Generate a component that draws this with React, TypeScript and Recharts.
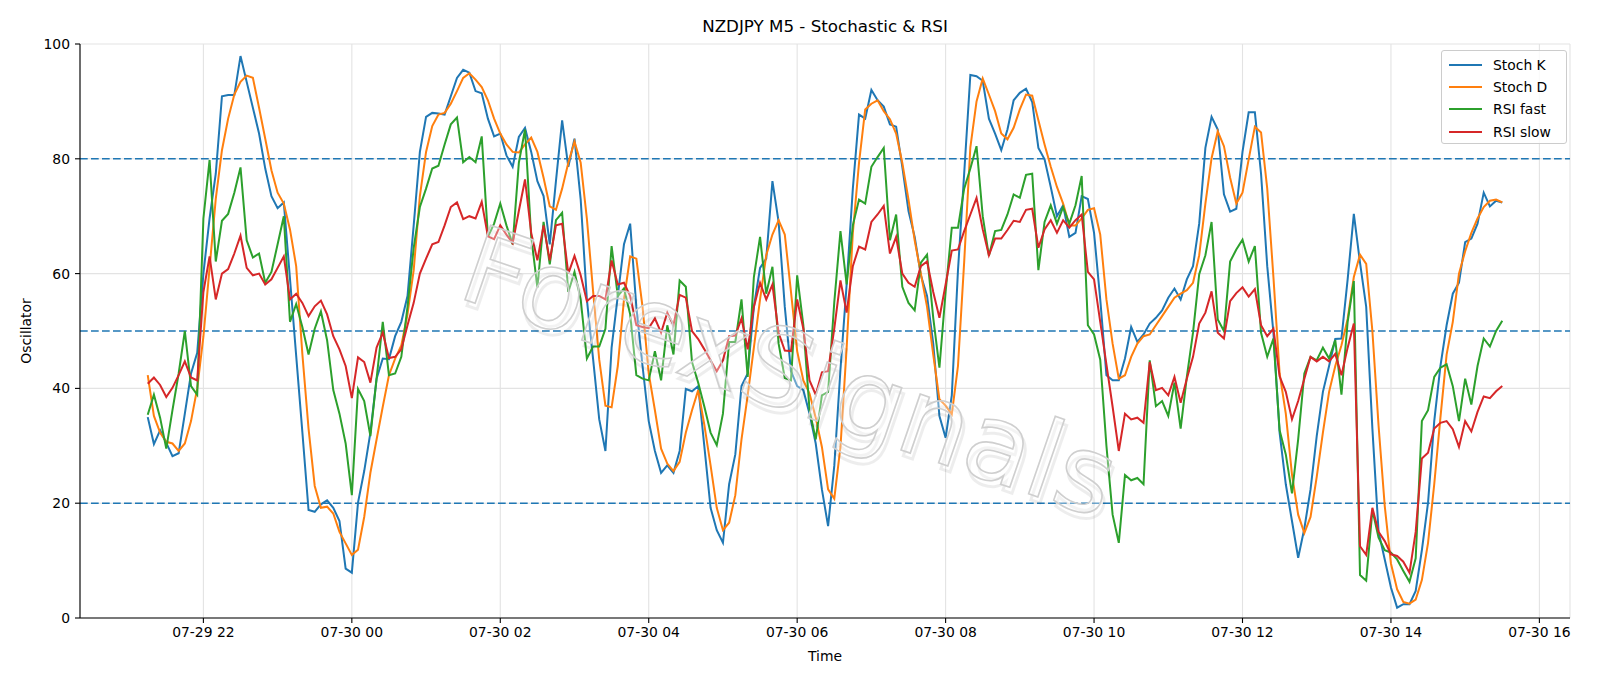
import React from "react";
import { LineChart, Line, XAxis, YAxis, CartesianGrid, ReferenceLine } from "recharts";

// M5 bars, first bar 07-29 21:15 (minutes from 07-29 00:00)
const START_MIN = 21 * 60 + 15;
const STEP_MIN = 5;

const stochK = [
  35.0, 30.3, 32.7, 30.5, 28.2, 28.7, 35.6, 42.6, 46.2, 60.0,
  69.6, 77.4, 90.9, 91.1, 91.1, 97.9, 93.4, 88.9, 84.4, 78.3,
  73.5, 71.4, 72.4, 59.1, 45.7, 32.4, 18.8, 18.5, 19.8, 20.5,
  19.2, 16.9, 8.6, 7.9, 20.1, 25.6, 32.3, 41.7, 45.2, 45.1,
  49.1, 51.6, 56.1, 68.4, 81.2, 87.3, 88.0, 87.9, 87.7, 90.9,
  94.1, 95.5, 95.0, 91.8, 91.4, 87.0, 83.9, 84.4, 80.6, 78.6,
  83.8, 85.4, 81.2, 76.1, 73.5, 65.1, 76.1, 86.7, 78.6, 83.5,
  72.9, 55.5, 45.2, 34.6, 29.1, 47.1, 56.1, 65.1, 68.7, 54.2,
  43.9, 34.3, 29.1, 25.3, 26.6, 25.3, 29.1, 39.9, 39.5, 40.4,
  29.8, 19.2, 15.3, 13.1, 23.3, 28.5, 40.4, 42.6, 54.2, 61.0,
  62.6, 76.1, 69.0, 54.2, 43.0, 40.4, 39.7, 35.6, 30.4, 22.4,
  16.0, 26.5, 43.3, 58.1, 74.8, 87.7, 87.0, 92.0, 90.2, 89.1,
  86.0, 85.6, 78.6, 70.9, 66.4, 59.7, 56.1, 47.8, 35.2, 31.4,
  38.8, 60.6, 77.4, 94.6, 94.4, 93.6, 87.0, 84.4, 81.5, 85.1,
  90.2, 91.5, 92.2, 89.9, 81.9, 79.9, 75.1, 70.0, 71.9, 66.4,
  67.1, 73.5, 73.0, 67.1, 55.5, 42.3, 41.4, 41.4, 45.2, 50.7,
  48.1, 49.4, 51.3, 52.3, 53.6, 55.8, 57.4, 55.5, 59.0, 61.3,
  68.7, 81.9, 87.3, 85.1, 73.8, 70.8, 71.3, 81.2, 88.1, 88.1,
  77.4, 61.3, 49.7, 32.3, 23.3, 16.9, 10.5, 15.6, 22.4, 31.7,
  39.4, 43.9, 48.6, 48.7, 59.0, 70.4, 61.9, 54.2, 33.0, 15.0,
  10.2, 5.3, 1.8, 2.4, 2.4, 4.7, 11.8, 20.1, 34.3, 43.9,
  51.0, 56.5, 58.4, 65.5, 66.1, 68.7, 74.1, 71.7, 72.7, 72.4,
];

const stochD = [
  42.3, 35.2, 32.3, 30.7, 30.4, 29.1, 30.4, 34.3, 40.0, 49.0,
  61.0, 73.0, 81.5, 87.0, 91.2, 93.4, 94.5, 94.1, 88.9, 83.5,
  78.0, 74.1, 72.2, 67.7, 61.3, 46.0, 33.0, 23.0, 19.2, 19.4,
  18.2, 15.0, 13.0, 11.0, 11.9, 17.6, 25.3, 31.1, 36.8, 42.3,
  45.2, 47.5, 52.9, 60.6, 73.5, 81.2, 85.7, 87.7, 88.0, 89.6,
  91.8, 94.1, 94.9, 93.8, 92.5, 90.2, 87.0, 84.4, 82.5, 81.2,
  81.1, 82.5, 83.7, 81.2, 76.7, 71.7, 71.1, 74.8, 79.3, 83.0,
  79.3, 69.6, 57.0, 45.0, 37.0, 36.7, 43.9, 55.5, 63.0, 62.6,
  54.2, 42.6, 36.2, 29.5, 26.9, 25.6, 27.2, 32.3, 36.2, 39.7,
  33.6, 26.6, 19.2, 15.3, 16.6, 21.4, 31.1, 38.8, 47.1, 55.5,
  63.2, 66.8, 69.3, 66.8, 56.8, 46.5, 41.4, 39.1, 34.9, 29.8,
  22.4, 20.8, 29.8, 47.1, 67.1, 79.3, 88.6, 89.6, 90.2, 88.3,
  86.9, 84.4, 79.3, 72.9, 65.8, 60.0, 54.2, 45.9, 38.1, 37.0,
  35.5, 43.9, 62.0, 82.0, 90.0, 94.0, 91.2, 88.3, 84.4, 83.4,
  85.4, 88.6, 91.2, 91.0, 86.7, 82.5, 78.6, 75.1, 72.2, 68.4,
  68.4, 69.6, 71.1, 71.4, 66.8, 55.5, 47.8, 41.7, 42.3, 45.5,
  47.8, 49.1, 49.4, 51.0, 52.6, 54.2, 55.8, 56.5, 57.1, 58.4,
  63.2, 72.2, 80.1, 84.8, 82.2, 76.7, 72.2, 74.1, 79.9, 85.6,
  84.6, 74.8, 59.4, 42.6, 35.6, 25.0, 18.0, 14.8, 17.6, 24.6,
  32.3, 39.4, 43.9, 47.5, 52.1, 59.4, 63.3, 61.7, 50.0, 33.5,
  19.5, 9.5, 5.0, 2.8, 2.5, 3.2, 6.6, 13.1, 23.3, 34.9,
  45.9, 51.6, 60.0, 63.9, 67.1, 69.6, 71.6, 72.7, 72.9, 72.4,
];

const rsiFast = [
  35.4, 38.9, 34.9, 29.5, 36.2, 42.6, 50.0, 40.4, 38.9, 69.6,
  79.8, 62.1, 69.2, 70.4, 74.1, 78.5, 65.8, 62.8, 63.5, 58.4,
  60.3, 65.1, 70.0, 51.6, 54.7, 50.7, 45.9, 50.4, 53.4, 48.4,
  39.7, 35.6, 30.4, 21.4, 39.9, 37.8, 31.7, 41.7, 51.6, 42.3,
  42.6, 45.5, 54.2, 64.5, 71.6, 74.8, 78.3, 78.8, 82.5, 86.0,
  87.2, 79.4, 80.3, 79.4, 83.9, 66.4, 68.7, 72.2, 68.4, 65.1,
  79.3, 85.1, 66.4, 57.6, 69.0, 61.6, 69.3, 70.6, 56.8, 60.3,
  55.5, 45.2, 47.3, 47.3, 50.4, 64.8, 56.1, 57.4, 52.9, 42.3,
  41.7, 41.4, 46.5, 41.4, 51.0, 45.9, 58.8, 57.7, 44.6, 41.0,
  36.8, 32.3, 30.1, 35.6, 48.1, 48.1, 55.5, 42.0, 59.4, 66.4,
  56.5, 61.2, 47.8, 41.8, 41.4, 59.7, 51.0, 36.2, 31.1, 38.8,
  39.4, 55.0, 67.4, 58.1, 68.4, 72.9, 72.2, 78.6, 80.3, 81.9,
  65.8, 70.3, 57.7, 54.9, 53.6, 61.9, 63.3, 52.3, 43.6, 56.8,
  68.0, 68.0, 74.8, 78.3, 82.2, 70.0, 63.1, 67.4, 67.6, 70.3,
  73.8, 73.2, 77.2, 77.4, 60.6, 69.0, 71.9, 68.7, 71.6, 68.7,
  71.9, 77.0, 51.0, 49.4, 45.0, 30.0, 18.0, 13.1, 24.9, 24.0,
  24.4, 23.3, 44.9, 36.9, 37.8, 35.2, 41.0, 33.0, 42.0, 49.7,
  59.9, 63.2, 69.0, 52.0, 50.0, 62.1, 64.2, 65.9, 62.1, 64.8,
  49.7, 45.5, 48.7, 32.7, 28.5, 21.7, 31.1, 42.6, 45.5, 44.9,
  47.1, 45.2, 48.4, 38.9, 51.6, 58.7, 7.5, 6.5, 18.8, 14.0,
  11.8, 11.4, 10.2, 8.2, 6.3, 10.4, 34.3, 36.2, 42.0, 43.6,
  44.2, 40.4, 34.3, 41.7, 37.2, 43.9, 48.7, 47.3, 50.0, 51.8,
];

const rsiSlow = [
  40.8, 41.9, 40.6, 38.5, 40.1, 42.3, 44.7, 41.9, 41.4, 56.8,
  63.0, 55.5, 60.0, 60.8, 63.5, 66.6, 61.0, 59.7, 60.0, 58.1,
  59.0, 61.0, 63.0, 55.5, 56.5, 54.9, 52.6, 54.3, 55.3, 52.9,
  49.1, 46.8, 43.9, 38.3, 45.4, 44.6, 41.0, 47.1, 49.7, 45.3,
  45.5, 46.8, 51.0, 54.9, 60.0, 62.6, 65.1, 65.5, 68.4, 71.6,
  72.4, 69.5, 70.0, 69.6, 72.5, 66.5, 66.0, 68.4, 66.8, 65.3,
  70.9, 76.4, 67.1, 62.3, 68.4, 62.3, 68.4, 68.7, 60.0, 63.1,
  59.7, 55.2, 56.1, 56.1, 55.5, 62.3, 58.1, 58.4, 56.1, 51.0,
  50.7, 50.5, 52.2, 49.7, 53.2, 51.0, 56.3, 55.8, 50.0, 48.6,
  46.8, 44.9, 43.0, 44.9, 49.1, 49.2, 52.2, 46.8, 54.2, 58.4,
  55.5, 58.1, 49.7, 46.6, 46.5, 55.5, 50.4, 41.4, 38.9, 42.8,
  43.0, 50.4, 58.8, 53.2, 61.3, 64.7, 64.2, 69.0, 70.3, 71.8,
  63.5, 66.4, 60.0, 58.4, 57.7, 61.3, 62.1, 56.8, 52.3, 58.1,
  64.0, 64.2, 67.4, 70.3, 73.2, 67.7, 63.2, 66.1, 66.1, 67.6,
  69.2, 69.0, 71.1, 71.3, 64.5, 67.7, 69.3, 67.1, 69.3, 68.0,
  69.3, 70.3, 60.3, 59.0, 51.6, 44.2, 36.8, 29.1, 35.6, 34.6,
  34.9, 34.0, 44.6, 39.7, 40.1, 38.8, 42.0, 37.5, 41.7, 45.5,
  51.3, 53.2, 56.9, 49.7, 48.7, 55.2, 56.6, 57.6, 56.0, 57.3,
  51.0, 49.1, 50.4, 42.1, 39.4, 34.6, 37.8, 41.7, 45.5, 44.7,
  45.5, 44.7, 46.0, 42.3, 47.1, 51.3, 12.5, 11.0, 19.2, 15.0,
  13.4, 11.1, 10.8, 9.8, 7.9, 15.0, 27.8, 28.8, 33.0, 34.0,
  34.3, 32.9, 29.8, 34.3, 32.5, 35.9, 38.6, 38.3, 39.5, 40.4,
];

const xTicks = [1320, 1440, 1560, 1680, 1800, 1920, 2040, 2160, 2280, 2400];
const xTickLabels = [
  "07-29 22", "07-30 00", "07-30 02", "07-30 04", "07-30 06",
  "07-30 08", "07-30 10", "07-30 12", "07-30 14", "07-30 16",
];
const yTicks = [0, 20, 40, 60, 80, 100];
const levels = [20, 50, 80];

const series = [
  { key: "k", name: "Stoch K", color: "#1f77b4" },
  { key: "d", name: "Stoch D", color: "#ff7f0e" },
  { key: "fast", name: "RSI fast", color: "#2ca02c" },
  { key: "slow", name: "RSI slow", color: "#d62728" },
];

const rows = stochK.map((k, i) => ({
  t: START_MIN + i * STEP_MIN,
  k,
  d: stochD[i],
  fast: rsiFast[i],
  slow: rsiSlow[i],
}));

// matplotlib-style 5% x margins
const first = rows[0].t;
const last = rows[rows.length - 1].t;
const pad = (last - first) * 0.05;
const xDomain = [first - pad, last + pad];

const FONT = "'DejaVu Sans', Verdana, sans-serif";
const tickStyle = { fill: "#000", fontSize: 13.9 };

function fmtTime(v: number) {
  const idx = xTicks.indexOf(v);
  return idx >= 0 ? xTickLabels[idx] : "";
}

export default function App() {
  return (
    <div style={{ position: "relative", width: 1600, height: 686, fontFamily: FONT, background: "#fff" }}>
      <style>{`body{margin:0}`}</style>
      <LineChart width={1600} height={686} data={rows} margin={{ top: 44, right: 30, bottom: 0, left: 0 }}>
        <CartesianGrid stroke="#e3e3e3" strokeWidth={1.1} />
        <XAxis
          type="number"
          dataKey="t"
          domain={xDomain}
          ticks={xTicks}
          tickFormatter={fmtTime}
          interval={0}
          allowDataOverflow
          height={68}
          tickSize={5}
          tickMargin={4}
          stroke="#000"
          strokeWidth={1.1}
          tick={tickStyle}
        />
        <YAxis
          domain={[0, 100]}
          ticks={yTicks}
          interval={0}
          width={80}
          tickSize={5}
          tickMargin={5}
          stroke="#000"
          strokeWidth={1.1}
          tick={tickStyle}
        />
        <XAxis xAxisId="top" orientation="top" type="number" domain={xDomain} allowDataOverflow height={0} tick={false} tickLine={false} stroke="#000" strokeWidth={1.1} />
        <YAxis yAxisId="right" orientation="right" domain={[0, 100]} width={0} tick={false} tickLine={false} stroke="#000" strokeWidth={1.1} />
        {levels.map((v) => (
          <ReferenceLine key={v} y={v} stroke="#1f77b4" strokeWidth={1.5} strokeDasharray="7.7 3.3" />
        ))}
        {series.map((s) => (
          <Line
            key={s.key}
            type="linear"
            dataKey={s.key}
            name={s.name}
            stroke={s.color}
            strokeWidth={2}
            dot={false}
            activeDot={false}
            isAnimationActive={false}
          />
        ))}
      </LineChart>

      {/* title, axis labels, watermark */}
      <svg width={1600} height={686} style={{ position: "absolute", left: 0, top: 0, pointerEvents: "none" }}>
        <text x={825} y={26} textAnchor="middle" dominantBaseline="central" fontSize={16.7} fill="#000">
          NZDJPY M5 - Stochastic &amp; RSI
        </text>
        <text x={825} y={656} textAnchor="middle" dominantBaseline="central" fontSize={13.9} fill="#000">
          Time
        </text>
        <text transform="translate(26,331) rotate(-90)" textAnchor="middle" dominantBaseline="central" fontSize={13.9} fill="#000">
          Oscillator
        </text>
        <g transform="translate(790,372) rotate(19)">
          <text x={4} y={5} textAnchor="middle" dominantBaseline="central" fontSize={108} fill="none" stroke="#000" strokeOpacity={0.07} strokeWidth={3}>
            ForexSignals
          </text>
          <text x={0} y={0} textAnchor="middle" dominantBaseline="central" fontSize={108} fill="#fff" fillOpacity={0.35} stroke="#cfcfcf" strokeWidth={1.6}>
            ForexSignals
          </text>
        </g>
      </svg>

      {/* legend */}
      <div
        style={{
          position: "absolute",
          left: 1441,
          top: 50,
          width: 126,
          height: 94,
          boxSizing: "border-box",
          border: "1px solid #cccccc",
          borderRadius: 3,
          background: "rgba(255,255,255,0.8)",
        }}
      >
        {series.map((s, j) => (
          <div key={s.key} style={{ position: "absolute", left: 0, top: 3 + j * 22.2, height: 22, width: "100%" }}>
            <div style={{ position: "absolute", left: 7, top: 10, width: 33, height: 2, background: s.color }} />
            <div style={{ position: "absolute", left: 51, top: 0, lineHeight: "22px", fontSize: 13.9, color: "#000", whiteSpace: "nowrap" }}>
              {s.name}
            </div>
          </div>
        ))}
      </div>
    </div>
  );
}
